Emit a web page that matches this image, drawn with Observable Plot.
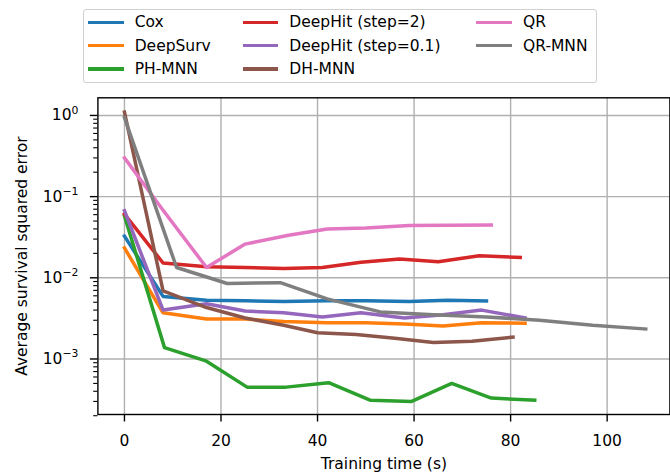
<!DOCTYPE html>
<html>
<head>
<meta charset="utf-8">
<script src="https://cdn.jsdelivr.net/npm/d3@7"></script>
<script src="https://cdn.jsdelivr.net/npm/@observablehq/plot@0.6"></script>
<style>
  html, body { margin: 0; padding: 0; background: #fff; }
  #wrap { position: relative; width: 670px; height: 475px; font-family: "DejaVu Sans", sans-serif; }
  #legend {
    position: absolute; left: 83.3px; top: 9.3px;
    border: 1.3px solid #d0d0d0; border-radius: 3px;
    background: rgba(255,255,255,0.8);
    padding: 0.5px 8px 1px 3.7px;
    display: grid; grid-auto-flow: column;
    grid-template-rows: repeat(3, 23.3px);
    grid-template-columns: 154.7px 233.7px auto;
    font-size: 15.5px; color: #000;
  }
  .item { display: flex; align-items: center; white-space: nowrap; }
  .swatch { display: inline-block; width: 35.7px; height: 3.5px; margin-right: 11px; }
</style>
</head>
<body>
<div id="wrap"><div id="legend"></div></div>
<script>
const methods = ["Cox", "DeepSurv", "PH-MNN", "DeepHit (step=2)", "DeepHit (step=0.1)", "DH-MNN", "QR", "QR-MNN"];
const colors = ["#1f77b4", "#ff7f0e", "#2ca02c", "#d62728", "#9467bd", "#8c564b", "#e377c2", "#7f7f7f"];

const coxT = [0, 8, 17, 25, 33, 42, 50, 59, 67, 75];
const coxV = [0.0326, 0.0059, 0.0053, 0.0052, 0.0051, 0.0052, 0.0052, 0.0051, 0.0053, 0.0052];
const deepsurvT = [0, 8, 17, 25, 33, 42, 50, 58, 66, 74, 83];
const deepsurvV = [0.0233, 0.0037, 0.0031, 0.0031, 0.0029, 0.0028, 0.0028, 0.0027, 0.00255, 0.0028, 0.00275];
const phmnnT = [0, 8.3, 17, 25.4, 33.5, 42.3, 51, 59.5, 67.8, 76, 85];
const phmnnV = [0.058, 0.00138, 0.00094, 0.00045, 0.00045, 0.00051, 0.00031, 0.0003, 0.0005, 0.00033, 0.00031];
const dh2T = [0, 8, 17, 25, 33, 41, 49, 57, 65, 73.5, 82];
const dh2V = [0.061, 0.0152, 0.0137, 0.0134, 0.013, 0.0134, 0.0155, 0.017, 0.0158, 0.0187, 0.0178];
const dh01T = [0, 8, 17, 25, 33, 41, 49, 58, 66, 74, 83];
const dh01V = [0.067, 0.0040, 0.0048, 0.0039, 0.0037, 0.0033, 0.0037, 0.0032, 0.0035, 0.0040, 0.0032];
const dhmnnT = [0, 8, 17, 25, 33, 40, 48, 56, 64, 72, 80.5];
const dhmnnV = [1.1, 0.0069, 0.0043, 0.0032, 0.0026, 0.0021, 0.0020, 0.0018, 0.0016, 0.00165, 0.00186];
const qrT = [0, 8, 17, 25, 34, 42, 50, 59, 67, 76];
const qrV = [0.30, 0.068, 0.0134, 0.026, 0.0335, 0.040, 0.041, 0.044, 0.0445, 0.0446];
const qrmnnT = [0, 10.8, 21.3, 32.3, 42, 53, 64, 75, 86, 97, 108];
const qrmnnV = [0.94, 0.0134, 0.0085, 0.0087, 0.0055, 0.0038, 0.0035, 0.0033, 0.0030, 0.0026, 0.00234];

const xTicks = [0, 20, 40, 60, 80, 100];
const yMajor = [1e-3, 1e-2, 1e-1, 1];
const yMinor = [1e-4, 1e-3, 1e-2, 1e-1].flatMap(b => [2,3,4,5,6,7,8,9].map(m => m * b));

const seriesT = [coxT, deepsurvT, phmnnT, dh2T, dh01T, dhmnnT, qrT, qrmnnT];
const seriesV = [coxV, deepsurvV, phmnnV, dh2V, dh01V, dhmnnV, qrV, qrmnnV];
const table = methods.flatMap((m, i) => seriesT[i].map((t, j) => ({method: m, time: t, value: seriesV[i][j]})));

const plot = Plot.plot({
  width: 670, height: 475,
  marginTop: 97.3, marginLeft: 97.4, marginRight: 0.6, marginBottom: 61,
  style: {fontFamily: "DejaVu Sans", fontSize: "15.5px", color: "#000", background: "transparent"},
  x: {domain: [-5.5, 113]},
  y: {type: "log", domain: [2.07e-4, 1.65]},
  color: {domain: methods, range: colors},
  marks: [
    Plot.gridX(xTicks, {stroke: "#b0b0b0", strokeOpacity: 1, strokeWidth: 1.4}),
    Plot.gridY(yMajor, {stroke: "#b0b0b0", strokeOpacity: 1, strokeWidth: 1.4}),
    Plot.line(table, {x: "time", y: "value", z: "method", stroke: "method", strokeWidth: 3.5, strokeLinejoin: "round", strokeLinecap: "square"}),
    Plot.frame({stroke: "#000", strokeWidth: 1.4}),
    Plot.axisX(xTicks, {tickSize: 7.5, tickPadding: 13, strokeWidth: 1.4, tickFormat: d => String(d),
      label: "Training time (s)", labelAnchor: "center", labelArrow: "none", labelOffset: 54}),
    Plot.axisY(yMajor, {tickSize: 7.5, tickPadding: 12, strokeWidth: 1.4,
      tickFormat: d => String(Math.round(Math.log10(d))).replace("-", "\u2212"),
      label: "Average survival squared error", labelAnchor: "center", labelArrow: "none", labelOffset: 82}),
    Plot.axisY(yMinor, {tickSize: 4.2, strokeWidth: 1.1, tickFormat: () => "", label: null})
  ]
});

// render y tick labels as 10 with a superscript exponent
const ns = "http://www.w3.org/2000/svg";
plot.querySelectorAll('g[aria-label="y-axis tick label"] text').forEach(t => {
  const e = t.textContent;
  if (!e) return;
  t.textContent = "";
  const base = document.createElementNS(ns, "tspan");
  base.textContent = "10";
  const sup = document.createElementNS(ns, "tspan");
  sup.setAttribute("dy", "-6.7");
  sup.setAttribute("font-size", "10.8px");
  sup.textContent = e;
  t.append(base, sup);
});

const wrap = document.getElementById("wrap");
plot.style.position = "absolute";
plot.style.left = "0px";
plot.style.top = "0px";
wrap.insertBefore(plot, wrap.firstChild);

const legend = document.getElementById("legend");
methods.forEach((m, i) => {
  const item = document.createElement("div");
  item.className = "item";
  const sw = document.createElement("span");
  sw.className = "swatch";
  sw.style.background = colors[i];
  const lab = document.createElement("span");
  lab.textContent = m;
  item.append(sw, lab);
  legend.append(item);
});
</script>
</body>
</html>
